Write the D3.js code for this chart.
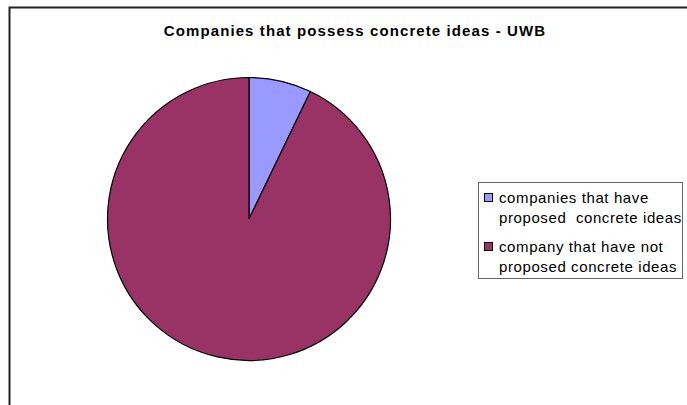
<!DOCTYPE html>
<html lang="en">
<head>
<meta charset="utf-8">
<title>Companies that possess concrete ideas - UWB</title>
<script src="https://d3js.org/d3.v7.min.js"></script>
<style>
body { margin: 0; background: #fff; }
text { white-space: pre; }
</style>
</head>
<body>
<script>

var categories = ["companies that have proposed  concrete ideas", "company that have not proposed concrete ideas"];
var legendLines = [["companies that have", "proposed  concrete ideas"], ["company that have not", "proposed concrete ideas"]];
var values = [2, 26];
var colors = ["#9999FF", "#993366"];

var w = 687, h = 405;
var cx = 249, cy = 219, r = 141.5;

var svg = d3.select("body").append("svg")
    .attr("width", w)
    .attr("height", h);

// chart frame (right and bottom edges fall outside the picture)
svg.append("rect")
    .attr("x", 9.5).attr("y", 7.5)
    .attr("width", 700).attr("height", 420)
    .style("fill", "none")
    .style("stroke", "#222")
    .style("stroke-width", 2);

svg.append("text")
    .attr("x", 355)
    .attr("y", 36)
    .attr("text-anchor", "middle")
    .attr("font-weight", "bold")
    .style("font-family", "Arial, 'Liberation Sans', sans-serif")
    .style("font-size", "15px")
    .style("letter-spacing", "1.1px")
    .text("Companies that possess concrete ideas - UWB");

var pie = d3.pie().sort(null).value(function(d) { return d; });
var arc = d3.arc().innerRadius(0).outerRadius(r);

svg.append("g")
    .attr("transform", "translate(" + cx + "," + cy + ")")
    .selectAll("path")
    .data(pie(values))
    .enter().append("path")
    .attr("d", arc)
    .style("fill", function(d, i) { return colors[i]; })
    .style("stroke", "#000")
    .style("stroke-width", 1.2);

// legend
var lg = svg.append("g");
lg.append("rect")
    .attr("x", 478.5).attr("y", 182.5)
    .attr("width", 204).attr("height", 96)
    .style("fill", "#fff")
    .style("stroke", "#666")
    .style("stroke-width", 1);

var items = lg.selectAll("g.item")
    .data(categories)
    .enter().append("g")
    .attr("class", "item")
    .attr("transform", function(d, i) { return "translate(484," + (193 + i * 49) + ")"; });

items.append("rect")
    .attr("x", 0.5).attr("y", 0.5)
    .attr("width", 8).attr("height", 8)
    .style("fill", function(d, i) { return colors[i]; })
    .style("stroke", "#000")
    .style("stroke-width", 1);

items.each(function(d, i) {
  var t = d3.select(this).append("text")
      .attr("x", 15)
      .attr("y", 10)
      .style("font-family", "Arial, 'Liberation Sans', sans-serif")
      .style("font-size", "15px")
      .style("letter-spacing", "0.6px")
      .style("fill", "#000");
  legendLines[i].forEach(function(line, j) {
    t.append("tspan").attr("x", 15).attr("dy", j === 0 ? 0 : 20).text(line);
  });
});

</script>
</body>
</html>
